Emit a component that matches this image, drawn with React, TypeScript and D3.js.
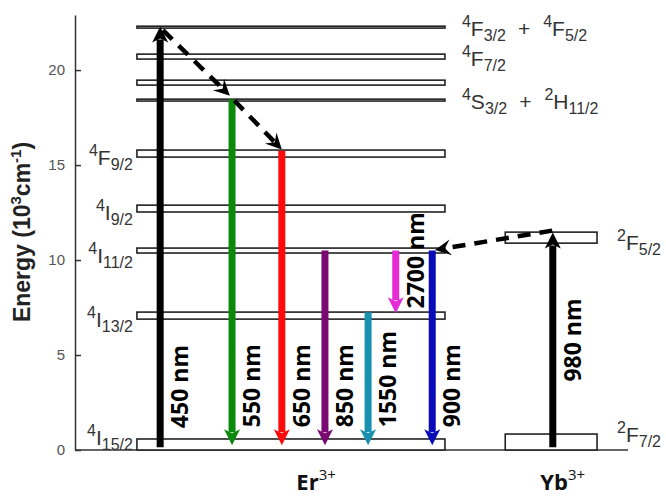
import React, { useRef, useEffect } from 'react';
import * as d3 from 'd3';

// energies in 10^3 cm^-1, x positions in arbitrary diagram units (0..100)
const erLevelNames = ['4I15/2', '4I13/2', '4I11/2', '4I9/2', '4F9/2', '4S3/2', '2H11/2', '4F7/2', '4F3/2+4F5/2'];
const erLevelLow = [0, 6.89, 10.37, 12.53, 15.42, 18.37, 19.21, 20.58, 22.21];
const erLevelHigh = [0.58, 7.26, 10.63, 12.89, 15.79, 18.47, 19.47, 20.84, 22.31];
const erSpan = [11.2, 66.9];

const ybLevelNames = ['2F7/2', '2F5/2'];
const ybLevelLow = [0, 10.89];
const ybLevelHigh = [0.84, 11.47];
const ybSpan = [77.8, 94.4];

const yTicks = [0, 5, 10, 15, 20];

// term symbols: [multiplicity, letter, J]
const leftLabelLevels = ['4I15/2', '4I13/2', '4I11/2', '4I9/2', '4F9/2'];
const leftLabels = [['4', 'I', '15/2'], ['4', 'I', '13/2'], ['4', 'I', '11/2'], ['4', 'I', '9/2'], ['4', 'F', '9/2']];
const rightLabelLevels = ['4F3/2+4F5/2', '4F7/2', '4S3/2'];
const rightLabels = [
  [['4', 'F', '3/2'], ['4', 'F', '5/2']],
  [['4', 'F', '7/2']],
  [['4', 'S', '3/2'], ['2', 'H', '11/2']],
];
const ybLabels = [['2', 'F', '7/2'], ['2', 'F', '5/2']];

// radiative transitions
const transLabels = ['450 nm', '550 nm', '650 nm', '850 nm', '1550 nm', '2700 nm', '900 nm', '980 nm'];
const transPos = [15.4, 28.4, 37.4, 45.2, 53.0, 58.0, 64.6, 86.4];
const transFrom = [0.15, 18.45, 15.75, 10.5, 7.25, 10.5, 10.5, 0.15];
const transTo = [22.3, 0.25, 0.25, 0.25, 0.25, 7.2, 0.25, 11.45];
const transLabelAt = [1.15, 1.2, 1.2, 1.2, 1.2, 7.45, 1.2, 3.6];
const transColors = ['#000000', '#0a8a0a', '#ff0a0a', '#7a0a72', '#1890b0', '#e52ad6', '#0a0ab8', '#000000'];

// non-radiative relaxation / energy transfer (dashed)
const dashFromPos = [15.9, 28.8, 86.3];
const dashFromE = [22.1, 18.4, 11.55];
const dashToPos = [28.0, 37.4, 65.1];
const dashToE = [18.65, 15.82, 10.53];

const ionNames = ['Er', 'Yb'];
const ionPos = [43.6, 88.2];

const App = () => {
  const svgRef = useRef<SVGSVGElement>(null);

  useEffect(() => {
    const svg = d3.select(svgRef.current);
    svg.selectAll('*').remove();

    const x = d3.scaleLinear().domain([0, 100]).range([75, 628]);
    const y = d3.scaleLinear().domain([0, 22.9]).range([450, 15]);
    const lineFont = 'Liberation Sans, Arial, sans-serif';
    const boldFont = 'Open Sans, sans-serif';

    // term label with superscript / subscript
    const term = (g, parts, ax, ay, anchor) => {
      const t = g.append('text')
        .attr('x', ax).attr('y', ay)
        .attr('text-anchor', anchor)
        .attr('font-family', lineFont)
        .attr('fill', '#333');
      let shift = 0;
      const push = (txt, size, s, dx = 0) => {
        t.append('tspan').attr('font-size', size).attr('dy', s - shift).attr('dx', dx).text(txt);
        shift = s;
      };
      parts.forEach((p, i) => {
        if (i > 0) push('+', 21, 0, 12);
        push(p[0], 16, -9, i > 0 ? 13 : 0);
        push(p[1], 21, 0);
        push(p[2], 16, 5);
      });
    };

    // y axis
    const yAxis = svg.append('g')
      .attr('transform', `translate(${x(0)},0)`)
      .call(d3.axisLeft(y).tickValues(yTicks).tickSize(-6).tickSizeOuter(0).tickPadding(10));
    yAxis.selectAll('path, line').attr('stroke', '#333').attr('stroke-width', 1.5);
    yAxis.selectAll('text').attr('font-size', 15).attr('font-family', lineFont).attr('fill', '#555');

    // baseline
    svg.append('line')
      .attr('x1', x(0)).attr('x2', x(100))
      .attr('y1', y(0)).attr('y2', y(0))
      .attr('stroke', '#333').attr('stroke-width', 1.5);

    // axis title
    const title = svg.append('text')
      .attr('transform', `translate(30,${232}) rotate(-90)`)
      .attr('text-anchor', 'middle')
      .attr('font-family', lineFont)
      .attr('font-weight', 'bold')
      .attr('font-size', 23)
      .attr('fill', '#222');
    title.append('tspan').text('Energy  (10');
    title.append('tspan').attr('font-size', 15).attr('dy', -9).text('3');
    title.append('tspan').attr('dy', 9).text('cm');
    title.append('tspan').attr('font-size', 15).attr('dy', -9).text('-1');
    title.append('tspan').attr('dy', 9).text(')');

    // energy levels
    const levels = svg.append('g');
    const drawLevels = (lo, hi, span) => {
      levels.selectAll(null)
        .data(lo.map((l, i) => [l, hi[i]]))
        .join('rect')
        .attr('x', x(span[0]))
        .attr('width', x(span[1]) - x(span[0]))
        .attr('y', d => y(d[1]))
        .attr('height', d => y(d[0]) - y(d[1]))
        .attr('fill', '#fff')
        .attr('stroke', '#222')
        .attr('stroke-width', 1.6);
    };
    drawLevels(erLevelLow, erLevelHigh, erSpan);
    drawLevels(ybLevelLow, ybLevelHigh, ybSpan);

    const mid = (name) => {
      const i = erLevelNames.indexOf(name);
      return (erLevelLow[i] + erLevelHigh[i]) / 2;
    };
    const labels = svg.append('g');
    leftLabels.forEach((p, i) => {
      const i0 = erLevelNames.indexOf(leftLabelLevels[i]);
      term(labels, [p], x(erSpan[0]) - 4, Math.min(y(erLevelHigh[i0]) + 15, y(0) - 5), 'end');
    });
    rightLabels.forEach((p, i) => {
      term(labels, p, x(erSpan[1]) + 17, y(mid(rightLabelLevels[i])) + 9, 'start');
    });
    ybLabels.forEach((p, i) => {
      const m = (ybLevelLow[i] + ybLevelHigh[i]) / 2;
      term(labels, [p], x(ybSpan[1]) + 20, Math.min(y(m) + 12, y(0) - 8), 'start');
    });

    // radiative transitions
    const headLen = 16;
    const headW = 8;
    const arrows = svg.append('g');
    transLabels.forEach((lab, i) => {
      const ax = x(transPos[i]);
      const y0 = y(transFrom[i]);
      const y1 = y(transTo[i]);
      const dir = y1 > y0 ? 1 : -1;
      arrows.append('line')
        .attr('x1', ax).attr('x2', ax)
        .attr('y1', y0).attr('y2', y1 - dir * (headLen - 3))
        .attr('stroke', transColors[i]).attr('stroke-width', 7);
      arrows.append('path')
        .attr('d', `M${ax},${y1} L${ax - headW},${y1 - dir * headLen} L${ax},${y1 - dir * (headLen - 4)} L${ax + headW},${y1 - dir * headLen} Z`)
        .attr('fill', transColors[i]);
      arrows.append('text')
        .attr('transform', `translate(${ax + 28},${y(transLabelAt[i])}) rotate(-90)`)
        .attr('font-family', boldFont)
        .attr('font-weight', 'bold')
        .attr('font-size', 23)
        .attr('fill', '#000')
        .text(lab);
    });

    // dashed arrows
    const dashes = svg.append('g');
    dashFromPos.forEach((p, i) => {
      const xa = x(p), ya = y(dashFromE[i]);
      const xb = x(dashToPos[i]), yb = y(dashToE[i]);
      const ang = Math.atan2(yb - ya, xb - xa);
      const back = 10;
      dashes.append('line')
        .attr('x1', xa).attr('y1', ya)
        .attr('x2', xb - back * Math.cos(ang)).attr('y2', yb - back * Math.sin(ang))
        .attr('stroke', '#000').attr('stroke-width', 4.5)
        .attr('stroke-dasharray', '13 9');
      const deg = (ang * 180) / Math.PI;
      dashes.append('path')
        .attr('transform', `translate(${xb},${yb}) rotate(${deg})`)
        .attr('d', 'M0,0 L-16,-8 L-10,0 L-16,8 Z')
        .attr('fill', '#000');
    });

    // ion labels
    ionNames.forEach((n, i) => {
      const t = svg.append('text')
        .attr('x', x(ionPos[i])).attr('y', 490)
        .attr('text-anchor', 'middle')
        .attr('font-family', boldFont)
        .attr('font-weight', 'bold')
        .attr('font-size', 22)
        .attr('fill', '#111');
      t.append('tspan').text(n);
      t.append('tspan').attr('font-size', 15).attr('font-weight', 'normal').attr('dy', -10).text('3+');
    });
  }, []);

  return (
    <svg
      ref={svgRef}
      width={666}
      height={496}
      style={{ position: 'absolute', left: 0, top: 0, background: '#fff' }}
    />
  );
};

export default App;
